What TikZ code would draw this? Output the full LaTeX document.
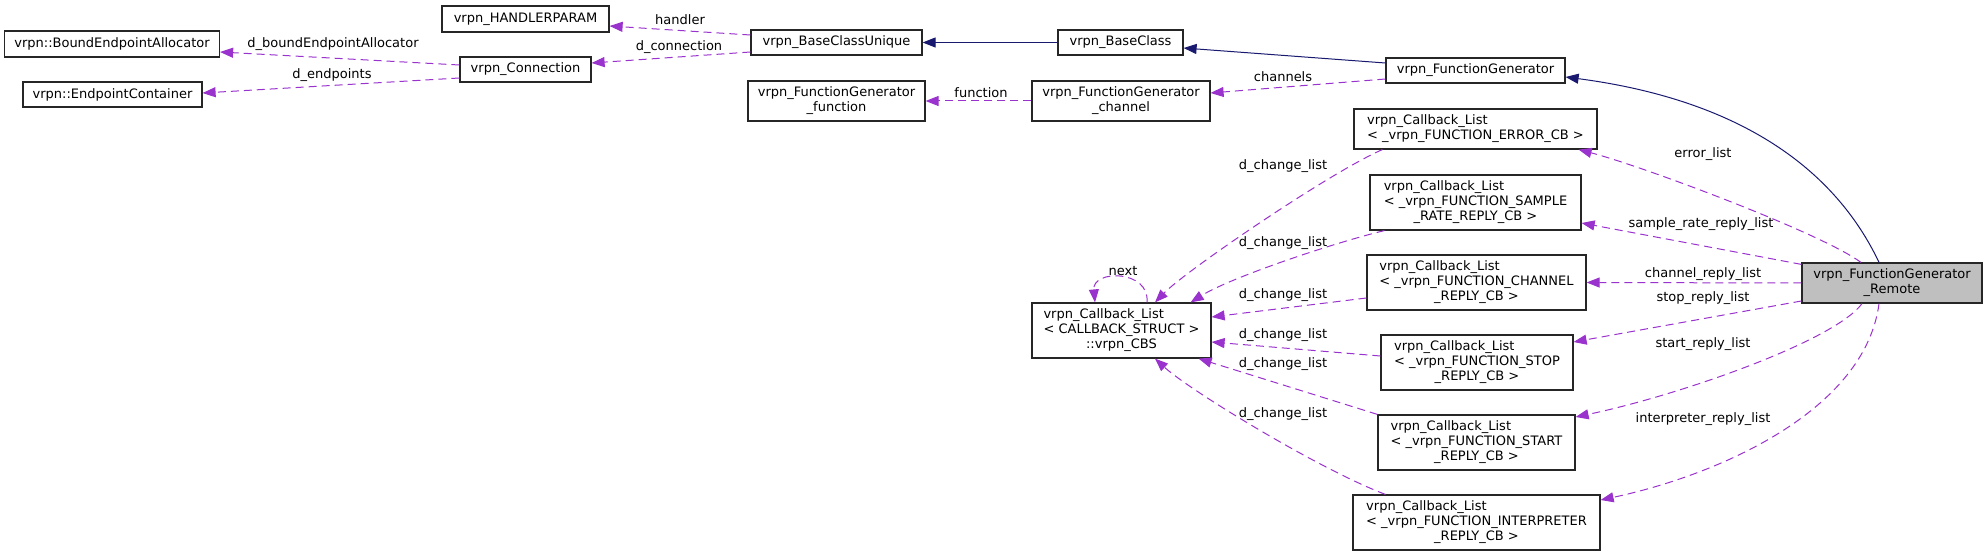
\documentclass[tikz,border=0pt]{standalone}
\usepackage{fontspec}
\setmainfont{DejaVu Sans}
\usetikzlibrary{arrows.meta,calc}
\definecolor{depcolor}{RGB}{154,50,205}
\definecolor{inhcolor}{RGB}{25,25,112}
\definecolor{focusgray}{RGB}{191,191,191}
\tikzset{
  cls/.style={rectangle,draw=black!85,fill=white,line width=1.2pt,
              minimum width=#1,minimum height=25pt,inner sep=0pt,
              align=center,font=\fontsize{13}{15}\selectfont},
  cls/.default=150pt,
  lbl/.style={inner sep=0pt,font=\fontsize{13}{15}\selectfont},
}
\newcommand{\cbtext}[2]{\begin{tabular}{@{}l@{}}#1\\\multicolumn{1}{@{}c@{}}{#2}\end{tabular}}

\begin{document}
\begin{tikzpicture}[x=1pt,y=-1pt,
    uses/.style={-{Triangle[length=13pt,width=10pt]},depcolor,
                 dash pattern=on 8pt off 5pt,line width=1pt},
    inherit/.style={-{Triangle[length=13pt,width=10pt]},inhcolor,line width=1pt},
  ]
  \useasboundingbox (0,0) rectangle (1983,556);

  % left part
  \node[cls=167pt,minimum height=26pt] (handlerparam) at (525.5,19) {vrpn\_HANDLERPARAM};
  \node[cls=215pt,minimum height=26pt] (boundalloc) at (112,44) {vrpn::BoundEndpointAllocator};
  \node[cls=179pt] (endpoints) at (112.5,94.5) {vrpn::EndpointContainer};
  \node[cls=131pt] (connection) at (525.5,69.5) {vrpn\_Connection};
  \node[cls=171pt] (baseunique) at (836.5,42.5) {vrpn\_BaseClassUnique};
  \node[cls=125pt] (baseclass) at (1120.5,42.5) {vrpn\_BaseClass};
  \node[cls=177pt,minimum height=40pt] (fgfunction) at (836.5,101)
       {\cbtext{vrpn\_FunctionGenerator}{\_function}};
  \node[cls=178pt,minimum height=40pt] (fgchannel) at (1121,101)
       {\cbtext{vrpn\_FunctionGenerator}{\_channel}};
  \node[cls=179pt,minimum height=55pt] (cbs) at (1121.5,330.5)
       {\cbtext{vrpn\_Callback\_List\\< CALLBACK\_STRUCT >}{::vrpn\_CBS}};

  % callback lists
  \node[cls=179pt] (fgen) at (1475.5,70.5) {vrpn\_FunctionGenerator};
  \node[cls=243pt,minimum height=40pt] (errorcb) at (1475.5,129)
       {\cbtext{vrpn\_Callback\_List}{< \_vrpn\_FUNCTION\_ERROR\_CB >}};
  \node[cls=211pt,minimum height=55pt] (samplecb) at (1475.5,202.5)
       {\cbtext{vrpn\_Callback\_List\\< \_vrpn\_FUNCTION\_SAMPLE}{\_RATE\_REPLY\_CB >}};
  \node[cls=219pt,minimum height=55pt] (channelcb) at (1476.5,282.5)
       {\cbtext{vrpn\_Callback\_List\\< \_vrpn\_FUNCTION\_CHANNEL}{\_REPLY\_CB >}};
  \node[cls=192pt,minimum height=55pt] (stopcb) at (1477,362.5)
       {\cbtext{vrpn\_Callback\_List\\< \_vrpn\_FUNCTION\_STOP}{\_REPLY\_CB >}};
  \node[cls=197pt,minimum height=55pt] (startcb) at (1476.5,442.5)
       {\cbtext{vrpn\_Callback\_List\\< \_vrpn\_FUNCTION\_START}{\_REPLY\_CB >}};
  \node[cls=247pt,minimum height=55pt] (interpcb) at (1476.5,522.5)
       {\cbtext{vrpn\_Callback\_List\\< \_vrpn\_FUNCTION\_INTERPRETER}{\_REPLY\_CB >}};
  \node[cls=180pt,minimum height=40pt,fill=focusgray] (remote) at (1892,283)
       {\cbtext{vrpn\_FunctionGenerator}{\_Remote}};

  % inheritance
  \draw[inherit] ($(remote.north)+(-13,0)$) .. controls +(-44,-93) and +(175,23) .. ($(fgen.east)+(0,6.5)$);
  \draw[inherit] ($(fgen.west)+(0,-7.5)$) -- ($(baseclass.east)+(0,5.5)$);
  \draw[inherit] (baseclass.west) -- (baseunique.east);

  % members
  \draw[uses] ($(baseunique.west)+(0,-7.5)$) -- ($(handlerparam.east)+(0,7)$);
  \draw[uses] ($(baseunique.west)+(0,9.5)$) -- ($(connection.east)+(0,-6.5)$);
  \draw[uses] ($(connection.west)+(0,-4.5)$) -- ($(boundalloc.east)+(0,8)$);
  \draw[uses] ($(connection.west)+(0,8.5)$) -- ($(endpoints.east)+(0,-1.5)$);
  \draw[uses] ($(fgen.west)+(0,8.5)$) -- ($(fgchannel.east)+(0,-8)$);
  \draw[uses] (fgchannel.west) -- (fgfunction.east);

  \draw[uses] ($(errorcb.south west)+(29,0)$) .. controls +(-53,23) and +(30,-31) .. ($(cbs.north)+(33.5,0)$);
  \draw[uses] ($(samplecb.south west)+(15,0)$) .. controls +(-50,12) and +(40,-25) .. ($(cbs.north east)+(-21,0)$);
  \draw[uses] ($(channelcb.west)+(0,15.5)$) -- ($(cbs.east)+(0,-13.5)$);
  \draw[uses] ($(stopcb.west)+(0,-6.5)$) -- ($(cbs.east)+(0,11.5)$);
  \draw[uses] (startcb.north west) -- ($(cbs.south east)+(-13,0)$);
  \draw[uses] ($(interpcb.north west)+(33,0)$) .. controls +(-66,-25) and +(35,32) .. ($(cbs.south)+(33.5,0)$);
  \draw[uses] ($(cbs.north)+(25.5,0)$) .. controls +(3,-33) and +(-3,-33) .. ($(cbs.north)+(-26.5,0)$);

  \draw[uses] ($(remote.north)+(-31,0)$) .. controls +(-41,-30) and +(62,16) .. ($(errorcb.south east)+(-19,0)$);
  \draw[uses] ($(remote.north west)+(0,2)$) -- ($(samplecb.east)+(0,20.5)$);
  \draw[uses] (remote.west) -- (channelcb.east);
  \draw[uses] ($(remote.west)+(0,18)$) -- ($(stopcb.east)+(0,-20.5)$);
  \draw[uses] ($(remote.south)+(-30,0)$) .. controls +(-27,37) and +(105,-22) .. ($(startcb.east)+(0,-25.5)$);
  \draw[uses] ($(remote.south)+(-13,0)$) .. controls +(-14,107) and +(118,-25) .. ($(interpcb.east)+(0,-22.5)$);

  % labels
  \node[lbl] (lhandler) at (680,20) {handler};
  \node[lbl] (lconn) at (679,47) {d\_connection};
  \node[lbl] (lbound) at (333,44) {d\_boundEndpointAllocator};
  \node[lbl] (lendp) at (332,75) {d\_endpoints};
  \node[lbl] (lfunc) at (981,93) {function};
  \node[lbl] (lchan) at (1283,77) {channels};
  \node[lbl] (lnext) at (1123,271) {next};
  \node[lbl] (lchg1) at (1283,166) {d\_change\_list};
  \node[lbl] (lchg2) at (1283,243) {d\_change\_list};
  \node[lbl] (lchg3) at (1283,295) {d\_change\_list};
  \node[lbl] (lchg4) at (1283,335) {d\_change\_list};
  \node[lbl] (lchg5) at (1283,364) {d\_change\_list};
  \node[lbl] (lchg6) at (1283,414) {d\_change\_list};
  \node[lbl] (lerr) at (1703,154) {error\_list};
  \node[lbl] (lsample) at (1701,224) {sample\_rate\_reply\_list};
  \node[lbl] (lchanrep) at (1703,274) {channel\_reply\_list};
  \node[lbl] (lstop) at (1703,298) {stop\_reply\_list};
  \node[lbl] (lstart) at (1703,344) {start\_reply\_list};
  \node[lbl] (linterp) at (1703,419) {interpreter\_reply\_list};
\end{tikzpicture}
\end{document}
